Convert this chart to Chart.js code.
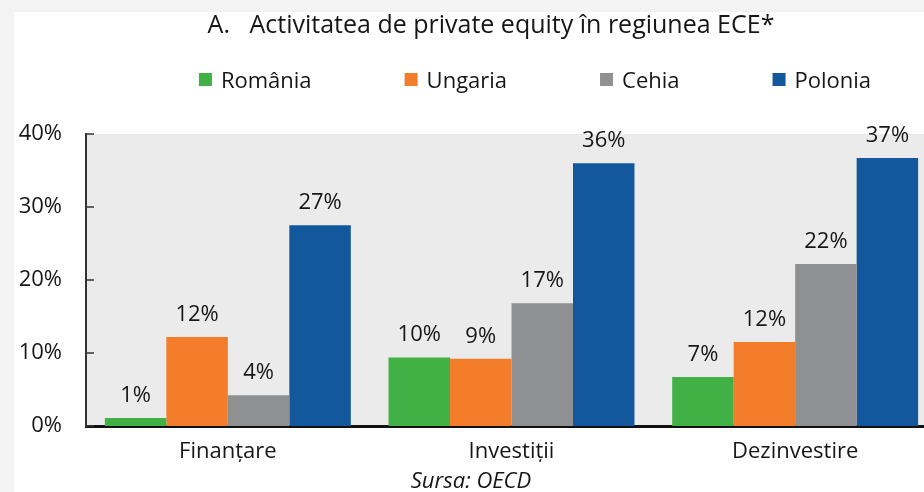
<!DOCTYPE html>
<html>
<head>
<meta charset="utf-8">
<script src="https://cdn.jsdelivr.net/npm/chart.js@4.4.0/dist/chart.umd.min.js"></script>
<style>
  html, body { margin: 0; padding: 0; background: #f3f3f3; overflow: hidden; width: 924px; height: 492px; }
  #wrap { position: absolute; left: 14px; top: 12px; width: 930px; height: 480px; background: #fff; }
</style>
</head>
<body>
<div id="wrap"><canvas id="chart" width="930" height="480"></canvas></div>
<script>
const title = 'A.   Activitatea de private equity în regiunea ECE*';
const source = 'Sursa: OECD';
const categories = ['Finanțare', 'Investiții', 'Dezinvestire'];

const romania = [1.1, 9.4, 6.7];
const ungaria = [12.2, 9.2, 11.5];
const cehia = [4.2, 16.8, 22.2];
const polonia = [27.5, 36.0, 36.7];

const romaniaLabels = ['1%', '10%', '7%'];
const ungariaLabels = ['12%', '9%', '12%'];
const cehiaLabels = ['4%', '17%', '22%'];
const poloniaLabels = ['27%', '36%', '37%'];

const yTicks = [0, 10, 20, 30, 40];

const FONT = '"Open Sans", "Noto Sans", sans-serif';
const TEXT = '#161616';

const series = [
  { label: 'România', data: romania, texts: romaniaLabels, color: '#41b045' },
  { label: 'Ungaria', data: ungaria, texts: ungariaLabels, color: '#f47d2b' },
  { label: 'Cehia', data: cehia, texts: cehiaLabels, color: '#8e9091' },
  { label: 'Polonia', data: polonia, texts: poloniaLabels, color: '#13589c' }
];

const decor = {
  id: 'decor',
  beforeDraw(chart) {
    const { ctx, chartArea: a } = chart;
    ctx.save();
    ctx.fillStyle = '#ebebeb';
    ctx.fillRect(a.left, a.top, a.right - a.left, a.bottom - a.top);
    ctx.restore();
  },
  afterDatasetsDraw(chart) {
    const { ctx } = chart;
    ctx.save();
    ctx.font = '22px ' + FONT;
    ctx.fillStyle = TEXT;
    ctx.textAlign = 'center';
    ctx.textBaseline = 'alphabetic';
    series.forEach((s, i) => {
      chart.getDatasetMeta(i).data.forEach((bar, j) => {
        ctx.fillText(s.texts[j], bar.x, bar.y - 16);
      });
    });
    ctx.restore();
  },
  afterDraw(chart) {
    const { ctx, chartArea: a, scales } = chart;
    ctx.save();
    // inside tick marks on the value axis
    ctx.strokeStyle = '#333';
    ctx.lineWidth = 1.5;
    yTicks.forEach(v => {
      const y = scales.y.getPixelForValue(v);
      ctx.beginPath();
      ctx.moveTo(a.left, y);
      ctx.lineTo(a.left + 8, y);
      ctx.stroke();
    });

    ctx.fillStyle = TEXT;
    ctx.textBaseline = 'alphabetic';
    ctx.textAlign = 'center';
    ctx.font = '25px ' + FONT;
    ctx.fillText(title, 477, 21);

    // legend
    ctx.font = '22px ' + FONT;
    const box = 13, gapBox = 9, gapItem = 93;
    const widths = series.map(s => box + gapBox + ctx.measureText(s.label).width);
    const total = widths.reduce((p, w) => p + w, 0) + gapItem * (series.length - 1);
    let x = 521 - total / 2;
    ctx.textAlign = 'left';
    series.forEach((s, i) => {
      ctx.fillStyle = s.color;
      ctx.fillRect(x, 61, box, box);
      ctx.fillStyle = TEXT;
      ctx.fillText(s.label, x + box + gapBox, 76);
      x += widths[i] + gapItem;
    });

    ctx.font = 'italic 22px ' + FONT;
    ctx.textAlign = 'center';
    ctx.fillText(source, 457, 476);
    ctx.restore();
  }
};

new Chart(document.getElementById('chart'), {
  type: 'bar',
  data: {
    labels: categories,
    datasets: series.map(s => ({
      label: s.label,
      data: s.data,
      backgroundColor: s.color,
      borderWidth: 0,
      categoryPercentage: 0.867,
      barPercentage: 1.0
    }))
  },
  options: {
    responsive: false,
    animation: false,
    layout: { padding: { top: 122, right: 7, bottom: 30, left: 0 } },
    plugins: {
      legend: { display: false },
      title: { display: false },
      tooltip: { enabled: false }
    },
    scales: {
      x: {
        z: 1,
        grid: { display: false, drawTicks: false },
        border: { display: true, color: '#111', width: 3 },
        ticks: { color: TEXT, font: { family: FONT, size: 22 }, padding: 13 },
        afterFit: scale => { scale.height = 36; }
      },
      y: {
        min: 0,
        max: 40,
        grid: { display: false, drawTicks: false },
        border: { display: true, color: '#333', width: 2 },
        ticks: {
          stepSize: 10,
          color: TEXT,
          font: { family: FONT, size: 22 },
          padding: 24,
          callback: v => v + '%'
        },
        afterFit: scale => { scale.width = 72; }
      }
    }
  },
  plugins: [decor]
});
</script>
</body>
</html>
